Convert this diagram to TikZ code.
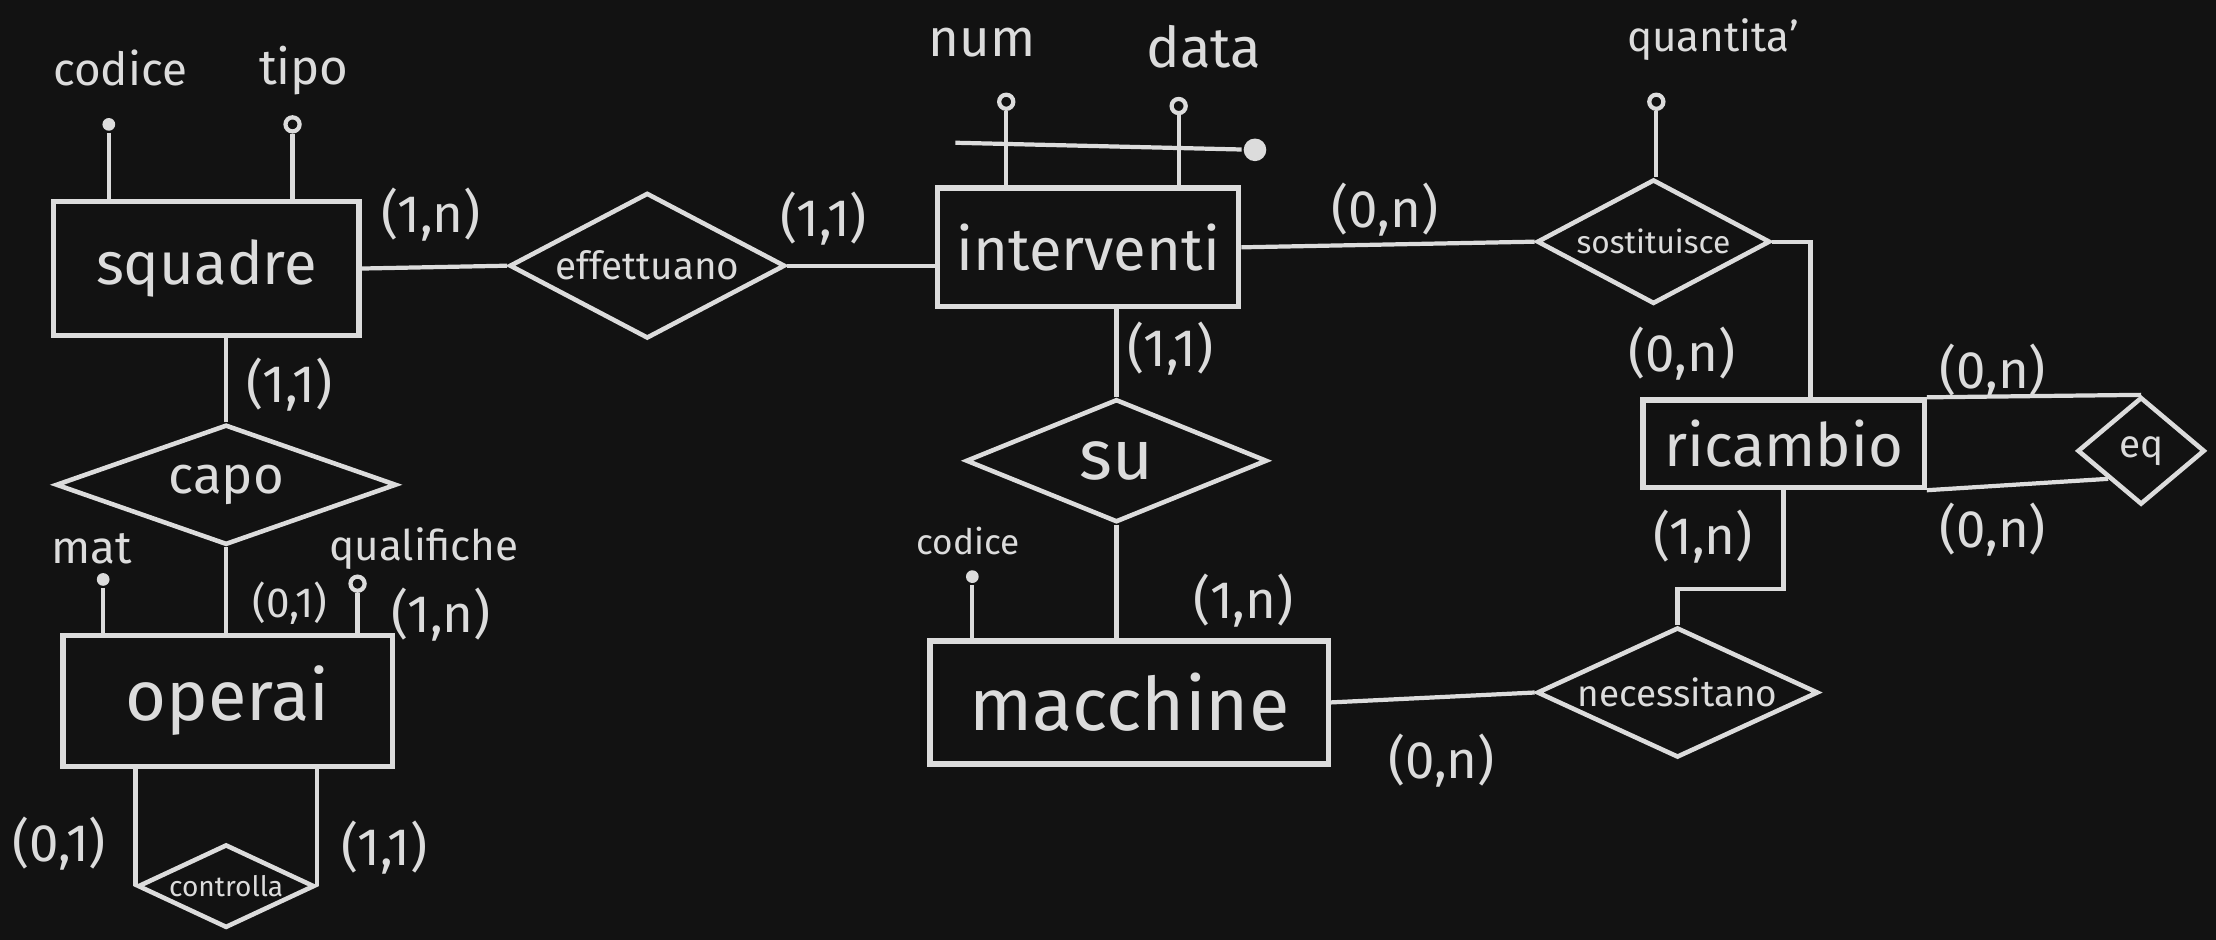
\documentclass[tikz,border=0pt]{standalone}
\usepackage{fontspec}
\setmainfont{Fira Sans}
\usetikzlibrary{shapes.geometric,positioning}
\definecolor{board}{HTML}{121212}
\definecolor{chalk}{HTML}{DCDCDC}
\newcommand{\pu}{0.01413cm}
\tikzset{
  entity/.style={draw=chalk, line width=1.5pt, rectangle, inner sep=0pt, font=\fontsize{17}{20}\selectfont},
  relation/.style={draw=chalk, line width=1.3pt, diamond, inner sep=0pt},
  keydot/.style={circle, fill=chalk, inner sep=0pt, minimum size=9*\pu},
  attrdot/.style={circle, draw=chalk, line width=1.2pt, fill=board, inner sep=0pt, minimum size=10*\pu},
  attrlbl/.style={inner sep=1pt, font=\fontsize{13}{15}\selectfont},
  card/.style={inner sep=1pt, font=\fontsize{15}{17}\selectfont},
}

\begin{document}
\begin{tikzpicture}[x=\pu, y=-\pu, color=chalk, line width=1.2pt]
\fill[board] (0,0) rectangle (1568,665);
\useasboundingbox (0,0) rectangle (1568,665);

% entita'
\node[entity, minimum width=216*\pu, minimum height=95*\pu] (squadre) at (146,190) {squadre};
\node[entity, minimum width=233*\pu, minimum height=93*\pu, font=\fontsize{20}{22}\selectfont] (operai) at (161,496) {operai};
\node[entity, minimum width=213*\pu, minimum height=84*\pu] (interventi) at (770,175) {interventi};
\node[entity, minimum width=282*\pu, minimum height=87*\pu, font=\fontsize{21}{24}\selectfont] (macchine) at (799,497) {macchine};
\node[entity, minimum width=199*\pu, minimum height=62*\pu] (ricambio) at (1262,314) {ricambio};

% relazioni
\node[relation, aspect=1.9, minimum width=195*\pu, minimum height=103*\pu, font=\fontsize{11}{13}\selectfont] (effettuano) at (458,188) {effettuano};
\node[relation, aspect=2.8, minimum width=241*\pu, minimum height=85*\pu, font=\fontsize{15}{17}\selectfont] (capo) at (160,343) {capo};
\node[relation, aspect=2.1, minimum width=125*\pu, minimum height=59*\pu, font=\fontsize{8}{10}\selectfont] (controlla) at (160,627) {controlla};
\node[relation, aspect=2.45, minimum width=213*\pu, minimum height=87*\pu, font=\fontsize{20}{22}\selectfont] (su) at (790,326) {su};
\node[relation, aspect=1.9, minimum width=165*\pu, minimum height=88*\pu, font=\fontsize{9}{11}\selectfont] (sostituisce) at (1170,171) {sostituisce};
\node[relation, aspect=1.2, minimum width=90*\pu, minimum height=76*\pu, font=\fontsize{11}{13}\selectfont] (eq) at (1515,319) {eq};
\node[relation, aspect=2.15, minimum width=199*\pu, minimum height=92*\pu, font=\fontsize{10.5}{12}\selectfont] (necessitano) at (1187,490) {necessitano};

\draw (squadre.east) -- (effettuano.west);
\draw (effettuano.east) -- (effettuano.east -| interventi.west);
\draw (interventi.east) -- (sostituisce.west);
\draw (sostituisce.east) -- ++(27,0) coordinate (sosturn) -- (sosturn |- ricambio.north);
\draw (capo.north) -- (capo.north |- squadre.south);
\draw (capo.south) -- (capo.south |- operai.north);
\draw (controlla.west) -- (controlla.west |- operai.south);
\draw (controlla.east) -- (controlla.east |- operai.south);
\draw (su.north) -- (su.north |- interventi.south);
\draw (su.south) -- (su.south |- macchine.north);
\draw (macchine.east) -- (necessitano.west);
\draw (ricambio.south) -- ++(0,70) -| (necessitano.north);
\draw (ricambio.north east) -- (eq.north);
\draw (ricambio.south east) -- (eq.south west);

% attributi
\node[keydot] (sqcodice) at (77,88) {};
\node[attrdot] (sqtipo) at (207,88) {};
\node[attrdot] (intnum) at (712,72) {};
\node[attrdot] (intdata) at (834,75) {};
\node[keydot, minimum size=16*\pu] (intkey) at (888,106) {};
\coordinate (intkeyend) at (676,101);
\node[attrdot] (sosqta) at (1172,72) {};
\node[keydot] (maccodice) at (688,408) {};
\node[keydot] (opmat) at (73,410) {};
\node[attrdot] (opqual) at (253,413) {};

\draw (sqcodice) -- (sqcodice |- squadre.north);
\draw (sqtipo) -- (sqtipo |- squadre.north);
\draw (intnum) -- (intnum |- interventi.north);
\draw (intdata) -- (intdata |- interventi.north);
\draw (intkeyend) -- (intkey);
\draw (sosqta) -- (sosqta |- sostituisce.north);
\draw (maccodice) -- (maccodice |- macchine.north);
\draw (opmat) -- (opmat |- operai.north);
\draw (opqual) -- (opqual |- operai.north);

\node[attrlbl] (lsqcodice) at (85,48) {codice};
\node[attrlbl, font=\fontsize{14}{16}\selectfont] (lsqtipo) at (215,50) {tipo};
\node[attrlbl, font=\fontsize{15}{17}\selectfont] (lintnum) at (695,30) {num};
\node[attrlbl, font=\fontsize{16}{18}\selectfont] (lintdata) at (852,33) {data};
\node[attrlbl, font=\fontsize{12}{14}\selectfont] (lsosqta) at (1212,28) {quantita'};
\node[attrlbl, font=\fontsize{10}{12}\selectfont] (lmaccodice) at (685,383) {codice};
\node[attrlbl] (lopmat) at (65,388) {mat};
\node[attrlbl, font=\fontsize{12}{14}\selectfont] (lopqual) at (300,388) {qualifiche};

% cardinalita'
\node[card] (csqeff) at (305,152) {(1,n)};
\node[card] (cinteff) at (583,155) {(1,1)};
\node[card] (cintsos) at (980,148) {(0,n)};
\node[card] (cricsos) at (1190,250) {(0,n)};
\node[card] (cricequp) at (1410,262) {(0,n)};
\node[card] (cricequdn) at (1410,375) {(0,n)};
\node[card] (cricnec) at (1205,380) {(1,n)};
\node[card] (cmacnec) at (1020,538) {(0,n)};
\node[card] (cmacsu) at (880,425) {(1,n)};
\node[card] (cintsu) at (828,247) {(1,1)};
\node[card] (csqcapo) at (205,272) {(1,1)};
\node[card, font=\fontsize{12}{14}\selectfont] (copcapo) at (205,427) {(0,1)};
\node[card] (copqual) at (312,435) {(1,n)};
\node[card] (copcon) at (42,597) {(0,1)};
\node[card] (copcon2) at (272,600) {(1,1)};
\end{tikzpicture}
\end{document}
